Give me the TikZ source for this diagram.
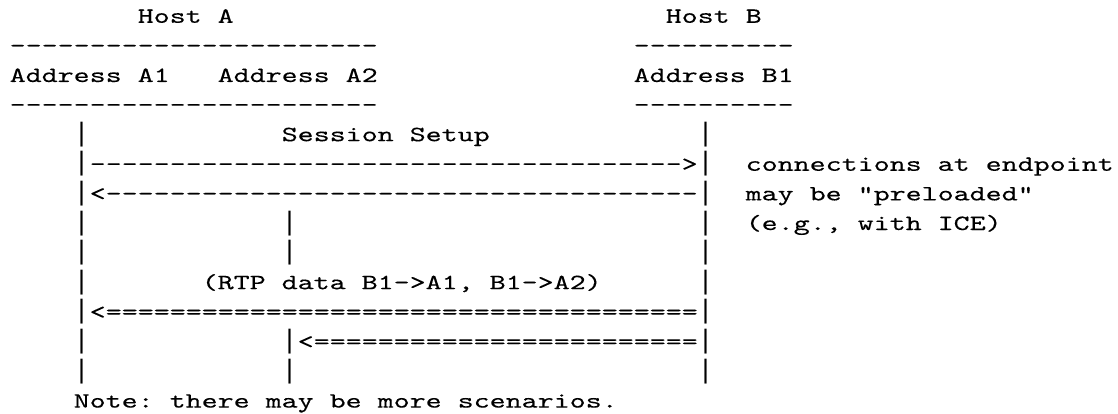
\documentclass[tikz,border=0pt]{standalone}
\usepackage{fontspec}
\usepackage{graphicx}
\setmonofont{lmmono10-regular.otf}[FakeBold=0.2]
\newfontfamily\libmono{Liberation Mono}
\ExplSyntaxOn
\cs_new_eq:NN \rpt \prg_replicate:nn
\ExplSyntaxOff
% vertical bar glyph, taller (Courier-like), one cell wide
\newcommand\vb{\makebox[0.525em][c]{\scalebox{0.7153}[1]{\libmono\fontsize{26.67pt}{29.6pt}\selectfont|}}}
\newcommand\asc[4]{\node[txt] (#1) at ({9.7+16*(#3)},{22.8+29.6*(#2-1)}) {\scalebox{1.398}[1]{#4}};}
\begin{document}
\begin{tikzpicture}[x=1pt,y=-1pt,
  txt/.style={anchor=base west, inner sep=0pt, outer sep=0pt,
    font=\ttfamily\fontsize{21.8pt}{29.6pt}\selectfont}]
\useasboundingbox (0,0) rectangle (1118,414);
% header
\asc{hA}{1}{8}{Host A}
\asc{hB}{1}{41}{Host B}
\asc{dA1}{2}{0}{\rpt{23}{-}}
\asc{dB1}{2}{39}{\rpt{10}{-}}
\asc{aA1}{3}{0}{Address A1}
\asc{aA2}{3}{13}{Address A2}
\asc{aB1}{3}{39}{Address B1}
\asc{dA2}{4}{0}{\rpt{23}{-}}
\asc{dB2}{4}{39}{\rpt{10}{-}}
% row 5
\asc{b5a}{5}{4}{\vb}
\asc{ss}{5}{17}{Session Setup}
\asc{b5c}{5}{43}{\vb}
% row 6
\asc{r6}{6}{4}{\vb\rpt{37}{-}>\vb}
\asc{n1}{6}{46}{connections at endpoint}
% row 7
\asc{r7}{7}{4}{\vb<\rpt{37}{-}\vb}
\asc{n2}{7}{46}{may be "preloaded"}
% row 8
\asc{b8a}{8}{4}{\vb}
\asc{b8b}{8}{17}{\vb}
\asc{b8c}{8}{43}{\vb}
\asc{n3}{8}{46}{(e.g., with ICE)}
% row 9
\asc{b9a}{9}{4}{\vb}
\asc{b9b}{9}{17}{\vb}
\asc{b9c}{9}{43}{\vb}
% row 10
\asc{b10a}{10}{4}{\vb}
\asc{rtp}{10}{12}{(RTP data B1->A1, B1->A2)}
\asc{b10c}{10}{43}{\vb}
% row 11
\asc{r11}{11}{4}{\vb<\rpt{37}{=}\vb}
% row 12
\asc{b12a}{12}{4}{\vb}
\asc{r12}{12}{17}{\vb<\rpt{24}{=}\vb}
% row 13
\asc{b13a}{13}{4}{\vb}
\asc{b13b}{13}{17}{\vb}
\asc{b13c}{13}{43}{\vb}
% row 14
\asc{note}{14}{4}{Note: there may be more scenarios.}
\end{tikzpicture}
\end{document}
